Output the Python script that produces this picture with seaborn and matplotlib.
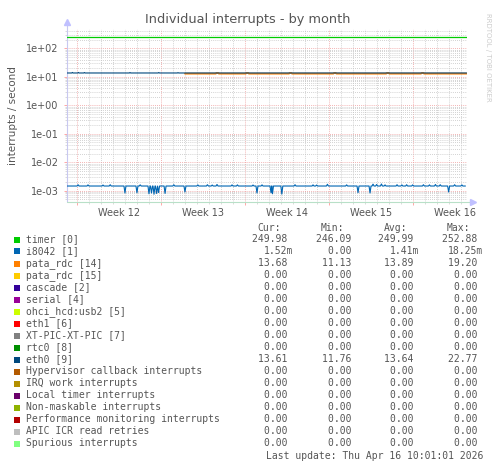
import numpy as np
import pandas as pd
import seaborn as sns
import matplotlib
matplotlib.use('Agg')
import matplotlib.pyplot as plt
from matplotlib.patches import Rectangle
from matplotlib.ticker import LogLocator, FixedLocator, NullFormatter

# ---- data (x in days from left edge of the graph, y in interrupts/second) ----
span_days = 33.33
week_starts = [0.83, 7.83, 14.83, 21.83, 28.83]
week_names = ['Week 12', 'Week 13', 'Week 14', 'Week 15', 'Week 16']

timer_days = [0.0, 33.3]
timer_vals = [250.0, 250.0]

eth0_days = [0.0, 0.4, 0.45, 0.5, 0.9, 0.95, 1.0, 1.4, 1.45, 1.5, 5.2, 5.25, 5.3,
             7.6, 7.65, 7.7, 9.2, 9.25, 9.3, 33.3]
eth0_vals = [13.6, 13.6, 14.2, 13.6, 13.6, 14.2, 13.6, 13.6, 14.1, 13.6, 13.6, 14.1, 13.6,
             13.6, 14.1, 13.6, 13.6, 14.0, 13.6, 13.6]

pata14_days = [9.83, 12.4, 12.45, 12.6, 12.65, 14.9, 14.95, 15.1, 15.15, 18.5, 18.55, 18.7,
               18.75, 22.2, 22.25, 22.4, 22.45, 26.6, 26.65, 26.8, 26.85, 29.5, 29.55, 29.7,
               29.75, 33.3]
pata14_vals = [12.9, 12.9, 13.6, 13.6, 12.9, 12.9, 13.6, 13.6, 12.9, 12.9, 13.6, 13.6,
               12.9, 12.9, 13.6, 13.6, 12.9, 12.9, 13.6, 13.6, 12.9, 12.9, 13.6, 13.6,
               12.9, 12.9]

i8042_base = 1.46e-3
i8042_event_days = [0.92, 1.75, 3.0, 3.6, 4.83, 5.83, 6.1, 6.83, 7.04, 7.25, 7.46, 7.63, 8.17,
                    8.9, 9.83, 10.9, 11.7, 12.1, 12.5, 13.75, 14.2, 15.5, 15.83, 16.25,
                    17.0, 17.12, 17.9, 19.0, 20.5, 20.8, 21.7, 23.3, 24.25, 25.25, 25.5,
                    25.8, 26.2, 26.5, 27.5, 27.9, 28.3, 28.8, 29.7, 30.2, 30.7, 31.1,
                    31.8, 32.3, 32.9]
i8042_event_vals = [1.62e-3, 1.6e-3, 1.58e-3, 1.62e-3, 8.3e-4, 8.5e-4, 1.6e-3, 7.8e-4, 8.3e-4,
                    7.5e-4, 8.0e-4, 8.6e-4, 8.0e-4, 1.62e-3, 9.0e-4, 1.6e-3, 1.62e-3, 1.58e-3,
                    1.65e-3, 1.6e-3, 1.6e-3, 1.58e-3, 8.3e-4, 1.6e-3, 8.5e-4, 7.8e-4, 7.6e-4,
                    1.62e-3, 1.6e-3, 1.58e-3, 1.68e-3, 1.6e-3, 8.5e-4, 8.3e-4, 1.7e-3,
                    1.65e-3, 1.72e-3, 1.6e-3, 1.62e-3, 1.6e-3, 1.62e-3, 1.6e-3, 1.62e-3,
                    1.6e-3, 1.65e-3, 1.62e-3, 9.0e-4, 1.62e-3, 1.6e-3]

names = ['timer [0]', 'i8042 [1]', 'pata_rdc [14]', 'pata_rdc [15]', 'cascade [2]',
         'serial [4]', 'ohci_hcd:usb2 [5]', 'eth1 [6]', 'XT-PIC-XT-PIC [7]', 'rtc0 [8]',
         'eth0 [9]', 'Hypervisor callback interrupts', 'IRQ work interrupts',
         'Local timer interrupts', 'Non-maskable interrupts',
         'Performance monitoring interrupts', 'APIC ICR read retries', 'Spurious interrupts']
colors = ['#00cc00', '#0066b3', '#ff8000', '#ffcc00', '#330099', '#990099', '#ccff00',
          '#ff0000', '#808080', '#008f00', '#00487d', '#b35a00', '#b38f00', '#6b006b',
          '#8fb300', '#b30000', '#bebebe', '#80ff80']
cur_vals = [249.98, 1.52e-3, 13.68, 0, 0, 0, 0, 0, 0, 0, 13.61, 0, 0, 0, 0, 0, 0, 0]
min_vals = [246.09, 0, 11.13, 0, 0, 0, 0, 0, 0, 0, 11.76, 0, 0, 0, 0, 0, 0, 0]
avg_vals = [249.99, 1.41e-3, 13.89, 0, 0, 0, 0, 0, 0, 0, 13.64, 0, 0, 0, 0, 0, 0, 0]
max_vals = [252.88, 18.25e-3, 19.20, 0, 0, 0, 0, 0, 0, 0, 22.77, 0, 0, 0, 0, 0, 0, 0]


def fmt(v):
    if 0 < v < 1:
        return '%.2fm' % (v * 1000)
    return '%.2f ' % v


# i8042 line: flat base with the events from the lists
pts = [(0.0, i8042_base)]
for d, v in zip(i8042_event_days, i8042_event_vals):
    pts += [(d - 0.083, i8042_base), (d, v), (d + 0.083, i8042_base)]
pts.append((33.2, i8042_base))

frames = [
    pd.DataFrame({'day': timer_days, 'rate': timer_vals, 'series': 'timer [0]'}),
    pd.DataFrame({'day': [p[0] for p in pts], 'rate': [p[1] for p in pts], 'series': 'i8042 [1]'}),
    pd.DataFrame({'day': pata14_days, 'rate': pata14_vals, 'series': 'pata_rdc [14]'}),
    pd.DataFrame({'day': eth0_days, 'rate': eth0_vals, 'series': 'eth0 [9]'}),
]
df = pd.concat(frames, ignore_index=True)
pal = dict(zip(names, colors))

sns.set_theme(style='white')
plt.rcParams['font.family'] = ['DejaVu Sans']
W, H = 497, 468
fig = plt.figure(figsize=(W / 100, H / 100), dpi=100)
fig.patch.set_facecolor('white')


def fx(px):
    return px / W


def fy(py):
    return 1 - py / H


ax = fig.add_axes([fx(67), fy(202), fx(400), (202 - 29) / H])
ax.set_facecolor('white')

widths = {'timer [0]': 0.9, 'i8042 [1]': 0.8, 'pata_rdc [14]': 1.3, 'eth0 [9]': 0.8}
for z, s in enumerate(['timer [0]', 'i8042 [1]', 'pata_rdc [14]', 'eth0 [9]']):
    sub = df[df.series == s]
    sns.lineplot(data=sub, x='day', y='rate', color=pal[s], lw=widths[s], ax=ax,
                 estimator=None, sort=False, legend=False)
    ax.lines[-1].set_zorder(3 + z)

ax.set_yscale('log')
ax.set_ylim(10 ** -3.397, 10 ** 2.678)
ax.set_xlim(0, span_days)
ax.set_xlabel('')
ax.set_ylabel('interrupts / second', fontsize=7.5, color='#555555', labelpad=6)

ax.yaxis.set_major_locator(FixedLocator([1e-3, 1e-2, 1e-1, 1e0, 1e1, 1e2]))
ax.set_yticklabels(['1e-03', '1e-02', '1e-01', '1e+00', '1e+01', '1e+02'])
ax.yaxis.set_minor_locator(LogLocator(base=10, subs=np.arange(2, 10)))
ax.yaxis.set_minor_formatter(NullFormatter())
ax.set_xticks(week_starts)
ax.set_xticklabels([])
ax.set_xticks([d for d in np.arange(0.83 - 1, span_days, 1.0) if d > 0], minor=True)

ax.tick_params(axis='both', which='major', labelsize=7, labelcolor='#555555',
               color='#ff9999', length=2, width=0.6, pad=4, left=True, bottom=True)
ax.tick_params(axis='both', which='minor', color='#cccccc', length=1.5, width=0.5,
               left=True, bottom=True)
ax.grid(True, which='major', color='#f09a9a', lw=0.6, ls=(0, (1, 1.5)), zorder=1)
ax.grid(True, which='minor', color='#c4c4c4', lw=0.6, ls=(0, (1, 1.5)), zorder=0)
for sp in ax.spines.values():
    sp.set_visible(False)

# axis lines with arrows
ax.plot([0, 0], [0, 1.04], transform=ax.transAxes, color='#c8c8f0', lw=0.8, clip_on=False)
ax.plot([0, 1.012], [0, 0], transform=ax.transAxes, color='#b8e0c8', lw=0.8, clip_on=False)
ax.plot(0, 1.04, marker='^', ms=4, color='#c0c0ff', transform=ax.transAxes, clip_on=False)
ax.plot(1.014, 0, marker='>', ms=4, color='#c0c0ff', transform=ax.transAxes, clip_on=False)

for d, lab in zip(week_starts, week_names):
    ax.text(d + 3.5, -0.065, lab, transform=ax.get_xaxis_transform(), ha='center', va='center',
            fontsize=7, color='#555555')

fig.text(fx(248), fy(19.5), 'Individual interrupts - by month', ha='center', va='center',
         fontsize=9.3, color='#555555')
fig.text(fx(488), fy(57), 'RRDTOOL / TOBI OETIKER', rotation=270, ha='center', va='center',
         fontsize=5, color='#cccccc')

# legend table
mono = {'family': 'DejaVu Sans Mono', 'size': 7, 'color': '#555555'}
for x_r, head in zip([281, 344, 407, 470], ['Cur:', 'Min:', 'Avg:', 'Max:']):
    fig.text(fx(x_r), fy(227.5), head, ha='right', va='center', **mono)
for i, (n, c) in enumerate(zip(names, colors)):
    y = 239.5 + 12 * i
    fig.add_artist(Rectangle((fx(14), fy(y + 3)), 6 / W, 6 / H, transform=fig.transFigure,
                             facecolor=c, edgecolor='none'))
    fig.text(fx(26.5), fy(y), n, ha='left', va='center', **mono)
    for x_r, vals in zip([293, 357, 419.5, 483], [cur_vals, min_vals, avg_vals, max_vals]):
        fig.text(fx(x_r), fy(y), fmt(vals[i]), ha='right', va='center', **mono)
fig.text(fx(483), fy(455.7), 'Last update: Thu Apr 16 10:01:01 2026', ha='right', va='center',
         **mono)

fig.savefig('out.png', dpi=100, facecolor='white')
